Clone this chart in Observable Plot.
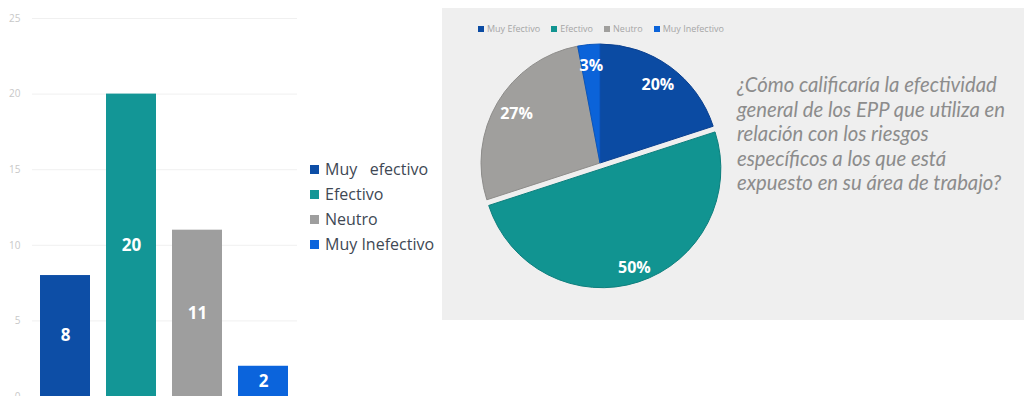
<!DOCTYPE html>
<html><head><meta charset="utf-8">
<script src="https://cdn.jsdelivr.net/npm/d3@7"></script>
<script src="https://cdn.jsdelivr.net/npm/@observablehq/plot@0.6"></script>
<style>
html,body{margin:0;padding:0;background:#fff;}
#root{position:relative;width:1024px;height:396px;overflow:hidden;font-family:"Open Sans",sans-serif;}
.abs{position:absolute;}
#barLegend{left:310px;top:157px;font-size:16px;color:#404854;line-height:25px;}
#barLegend .it{display:flex;align-items:center;white-space:pre;}
#barLegend .sw{width:9px;height:9px;margin-right:6px;}
#panel{left:442px;top:8px;width:582px;height:312px;background:#efefef;}
#pieLegend{left:478px;top:23px;font-size:9px;color:#a6a6a6;display:flex;gap:11px;line-height:12px;}
#pieLegend .it{display:flex;align-items:center;}
#pieLegend .sw{width:6px;height:6px;margin-right:3px;}
#question{left:737px;top:72px;font-family:Lato,sans-serif;font-style:italic;font-size:20.3px;line-height:24.5px;color:#8c8c8c;white-space:pre;}
</style></head><body><div id="root"></div>
<script>
// ---- data ----
const categories = ["Muy Efectivo", "Efectivo", "Neutro", "Muy Inefectivo"];
const barLegendLabels = ["Muy   efectivo", "Efectivo", "Neutro", "Muy Inefectivo"];
const counts = [8, 20, 11, 2];
const piePercents = [20, 50, 27, 3];
const yTicks = [0, 5, 10, 15, 20, 25];
const question = [
  "¿Cómo calificaría la efectividad",
  "general de los EPP que utiliza en",
  "relación con los riesgos",
  "específicos a los que está",
  "expuesto en su área de trabajo?"
];
// ---- style ----
const barColors = ["#0d4ea6", "#139696", "#9e9e9e", "#0b64dc"];
const pieColors = ["#0b4ba3", "#119491", "#a09f9d", "#0b63d9"];
const pieStrokes = ["#0a4090", "#0d7f7d", "#8d8c8a", "#0a55bb"];
const exploded = "Efectivo";
const explodePx = 6;

const root = document.getElementById("root");

// ---- bar chart ----
const barData = categories.map((c, i) => ({cat: c, value: counts[i]}));
const bar = Plot.plot({
  width: 297, height: 396,
  marginLeft: 32, marginRight: 0, marginTop: 18, marginBottom: 0,
  style: {background: "transparent", fontFamily: "Open Sans", overflow: "visible"},
  x: {domain: categories, range: [39, 289], paddingInner: 0.235, paddingOuter: 0, axis: null},
  y: {domain: [0, 25], axis: null},
  color: {domain: categories, range: barColors},
  marks: [
    Plot.ruleY(yTicks, {stroke: "#f0f0f0", strokeWidth: 1}),
    Plot.axisY(yTicks, {tickSize: 0, tickPadding: 12, fontSize: 10, fill: "#c8c8c8", label: null}),
    Plot.barY(barData, {x: "cat", y: "value", fill: "cat"}),
    Plot.text(barData, {x: "cat", y: d => d.value / 2, text: d => String(d.value),
      fill: "white", fontSize: 17, fontWeight: "bold"})
  ]
});
bar.classList.add("abs");
bar.style.left = "0px"; bar.style.top = "0px";
root.appendChild(bar);

// bar legend
const bl = document.createElement("div");
bl.id = "barLegend"; bl.className = "abs";
barLegendLabels.forEach((t, i) => {
  const it = document.createElement("div"); it.className = "it";
  const sw = document.createElement("span"); sw.className = "sw"; sw.style.background = barColors[i];
  const tx = document.createElement("span"); tx.textContent = t;
  it.append(sw, tx); bl.appendChild(it);
});
root.appendChild(bl);

// ---- panel ----
const panel = document.createElement("div");
panel.id = "panel"; panel.className = "abs";
root.appendChild(panel);

const pieData = categories.map((c, i) => ({cat: c, pct: piePercents[i], i}));
const arcs = d3.pie().sort(null).value(d => d.pct)(pieData);
arcs.forEach(a => { a.mid = (a.startAngle + a.endAngle) / 2; });

const cx = 158, cy = 155, R = 119;
function pieMark(index, scales) {
  const ox = scales.x(0), oy = scales.y(0), rad = scales.x(1) - scales.x(0);
  const arc = d3.arc().innerRadius(0).outerRadius(rad);
  const g = d3.create("svg:g");
  arcs.forEach(a => {
    const off = a.data.cat === exploded ? explodePx : 0;
    g.append("path")
      .attr("d", arc(a))
      .attr("transform", `translate(${ox + off * Math.sin(a.mid)},${oy - off * Math.cos(a.mid)})`)
      .attr("fill", pieColors[a.data.i])
      .attr("stroke", pieStrokes[a.data.i])
      .attr("stroke-width", 1);
  });
  return g.node();
}
const labelK = d => d.data.cat === exploded ? 0.87 + explodePx / R : 0.82;
const pie = Plot.plot({
  width: 582, height: 312, margin: 0,
  style: {background: "transparent", fontFamily: "Open Sans", overflow: "visible"},
  x: {domain: [-1, 1], range: [cx - R, cx + R], axis: null},
  y: {domain: [-1, 1], range: [cy + R, cy - R], axis: null},
  marks: [
    pieMark,
    Plot.text(arcs, {
      x: d => labelK(d) * Math.sin(d.mid),
      y: d => labelK(d) * Math.cos(d.mid),
      text: d => d.data.pct + "%",
      fill: "white", fontSize: 16, fontWeight: "bold"
    })
  ]
});
pie.classList.add("abs");
pie.style.left = "442px"; pie.style.top = "8px";
root.appendChild(pie);

// pie legend
const pl = document.createElement("div");
pl.id = "pieLegend"; pl.className = "abs";
categories.forEach((t, i) => {
  const it = document.createElement("div"); it.className = "it";
  const sw = document.createElement("span"); sw.className = "sw"; sw.style.background = pieColors[i];
  const tx = document.createElement("span"); tx.textContent = t;
  it.append(sw, tx); pl.appendChild(it);
});
root.appendChild(pl);

// question
const q = document.createElement("div");
q.id = "question"; q.className = "abs";
q.textContent = question.join("\n");
root.appendChild(q);
</script></body></html>
